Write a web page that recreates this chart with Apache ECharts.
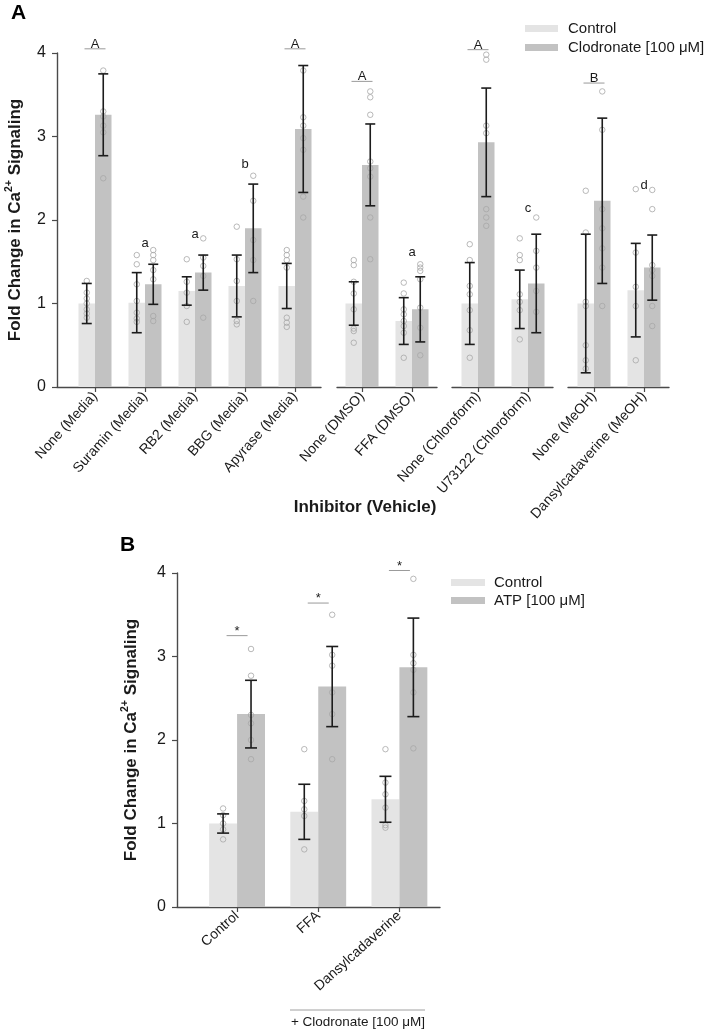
<!DOCTYPE html>
<html><head><meta charset="utf-8">
<script src="https://cdn.jsdelivr.net/npm/echarts@6/dist/echarts.min.js"></script>
<style>html,body{margin:0;padding:0;background:#fff}#c{width:710px;height:1031px}</style>
</head><body><div id="c"></div>
<script>
// ---------------- Panel A data ----------------
const catsA = ['None (Media)','Suramin (Media)','RB2 (Media)','BBG (Media)','Apyrase (Media)','None (DMSO)','FFA (DMSO)','None (Chloroform)','U73122 (Chloroform)','None (MeOH)','Dansylcadaverine (MeOH)'];
const groupA = [0,0,0,0,0,1,1,2,2,3,3];
const ctrlMeanA = [1.00,1.01,1.15,1.21,1.21,1.00,0.79,1.00,1.05,1.00,1.16];
const ctrlSdA   = [0.24,0.36,0.17,0.37,0.27,0.26,0.28,0.49,0.35,0.83,0.56];
const clodMeanA = [3.26,1.23,1.37,1.90,3.09,2.66,0.93,2.93,1.24,2.23,1.43];
const clodSdA   = [0.49,0.24,0.21,0.53,0.76,0.49,0.39,0.65,0.59,0.99,0.39];
const ctrlPtsA = [
  [1.27,1.13,1.06,1.00,0.93,0.88,0.83],
  [1.58,1.47,1.23,1.03,0.89,0.82,0.78],
  [1.53,1.26,1.13,0.97,0.78],
  [1.92,1.53,1.27,1.03,0.79,0.75],
  [1.64,1.58,1.52,1.43,0.83,0.77,0.72],
  [1.52,1.46,1.26,1.12,0.93,0.70,0.67,0.53],
  [1.25,1.12,0.93,0.87,0.79,0.73,0.65,0.35],
  [1.71,1.52,1.21,1.11,0.92,0.68,0.35],
  [1.78,1.58,1.52,1.11,1.02,0.92,0.57],
  [2.35,1.85,1.02,0.97,0.50,0.32,0.22],
  [2.37,1.61,1.20,0.97,0.32]
];
const clodPtsA = [
  [3.79,3.30,3.24,3.13,3.05,2.50],
  [1.64,1.58,1.52,1.40,1.29,0.85,0.79],
  [1.78,1.55,1.45,1.33,0.83],
  [2.53,2.23,1.76,1.52,1.03],
  [3.79,3.23,3.13,2.98,2.84,2.28,2.03],
  [3.54,3.47,3.26,2.70,2.62,2.52,2.03,1.53],
  [1.47,1.43,1.39,1.29,0.95,0.71,0.38],
  [3.98,3.92,3.13,3.04,2.13,2.03,1.93],
  [2.03,1.63,1.43,1.15,0.90],
  [3.54,3.08,2.13,1.90,1.66,1.43,0.97],
  [2.36,2.13,1.46,1.40,1.33,0.97,0.73]
];
const sigTextA = ['A','a','a','b','A','A','a','A','c','B','d'];
const sigYA    = [4.05,1.72,1.83,2.66,4.05,3.66,1.61,4.04,2.14,3.64,2.42];
const sigLineA = [1,0,0,0,1,1,0,1,0,1,0];
const seriesNamesA = ['Control','Clodronate [100 μM]'];

// ---------------- Panel B data ----------------
const catsB = ['Control','FFA','Dansylcadaverine'];
const ctrlMeanB = [1.00,1.14,1.29];
const ctrlSdB   = [0.115,0.33,0.275];
const atpMeanB  = [2.31,2.64,2.87];
const atpSdB    = [0.405,0.48,0.59];
const ctrlPtsB = [[1.18,1.10,1.00,0.93,0.81],[1.89,1.27,1.17,1.09,0.69],[1.89,1.49,1.35,1.19,0.98,0.95]];
const atpPtsB  = [[3.09,2.77,2.30,2.20,2.00,1.77],[3.50,3.02,2.89,2.57,2.31,1.77],[3.93,3.02,2.92,2.84,2.57,1.90]];
const sigTextB = ['*','*','*'];
const sigYB    = [3.25,3.64,4.03];
const sigLineB = [1,1,1];
const seriesNamesB = ['Control','ATP [100 μM]'];
const yTicks = [0,1,2,3,4];

// ---------------- styling ----------------
const FONT = '"Liberation Sans", Arial, Helvetica, sans-serif';
const LIGHT = '#e4e4e4', DARK = '#c2c2c2', PT = '#a8a8a8', ERR = '#1c1c1c', AX = '#4a4a4a', TXT = '#1a1a1a';

const option = {
  backgroundColor:'#fff', animation:false,
  textStyle:{fontFamily:FONT},
  grid:[], xAxis:[], yAxis:[], series:[],
  title:[
    {text:'A', left:11, top:3, padding:0, textStyle:{fontSize:21, fontWeight:'bold', color:'#000', fontFamily:FONT}},
    {text:'B', left:120, top:535, padding:0, textStyle:{fontSize:21, fontWeight:'bold', color:'#000', fontFamily:FONT}}
  ],
  legend:[
    {left:525, top:21, orient:'vertical', padding:0, itemGap:4, itemWidth:33, itemHeight:7, icon:'rect',
     data:seriesNamesA, textStyle:{fontSize:15, color:TXT, fontFamily:FONT, padding:[0,0,0,5]}},
    {left:451, top:575, orient:'vertical', padding:0, itemGap:3, itemWidth:34, itemHeight:7, icon:'rect',
     data:seriesNamesB, textStyle:{fontSize:15, color:TXT, fontFamily:FONT, padding:[0,0,0,4]}}
  ],
  graphic:[
    {type:'text', x:365, y:507, style:{text:'Inhibitor (Vehicle)', align:'center', verticalAlign:'middle', fontSize:17, fontWeight:'bold', fontFamily:FONT, fill:TXT}},
    {type:'line', shape:{x1:290, y1:1010, x2:425, y2:1010}, style:{stroke:'#a0a0a0', lineWidth:1}},
    {type:'text', x:358, y:1022, style:{text:'+ Clodronate [100 μM]', align:'center', verticalAlign:'middle', fontSize:13.5, fontFamily:FONT, fill:TXT}}
  ]
};

function barItem(side, bw){
  return function(params, api){
    const x = api.value(0), y = api.value(1);
    const b = api.coord([x,0]), t = api.coord([x,y]);
    const w = api.size([bw,0])[0];
    return {type:'rect', shape:{x: side<0 ? b[0]-w : b[0], y:t[1], width:w, height:b[1]-t[1]}, style:api.style()};
  };
}
function errItem(side, bw, cap){
  return function(params, api){
    const x = api.value(0), m = api.value(1), sd = api.value(2);
    const w = api.size([bw,0])[0];
    const xc = api.coord([x,m])[0] + side*w/2;
    const hi = api.coord([x,m+sd])[1], lo = api.coord([x,m-sd])[1];
    const st = {stroke:ERR, lineWidth:1.6};
    return {type:'group', children:[
      {type:'line', shape:{x1:xc,y1:hi,x2:xc,y2:lo}, style:st},
      {type:'line', shape:{x1:xc-cap,y1:hi,x2:xc+cap,y2:hi}, style:st},
      {type:'line', shape:{x1:xc-cap,y1:lo,x2:xc+cap,y2:lo}, style:st}
    ]};
  };
}
function sigItem(texts, lines){
  return function(params, api){
    const i = params.dataIndex;
    const p = api.coord([api.value(0), api.value(1)]);
    const ts = {text:texts[i], x:p[0], fontSize:13, fontFamily:FONT, fill:TXT, align:'center'};
    if (lines[i]) {
      return {type:'group', children:[
        {type:'line', shape:{x1:p[0]-10.5,y1:p[1],x2:p[0]+10.5,y2:p[1]}, style:{stroke:'#9a9a9a', lineWidth:1}},
        {type:'text', style:Object.assign({}, ts, {y:p[1]+2, verticalAlign:'bottom'})}
      ]};
    }
    return {type:'text', style:Object.assign({}, ts, {y:p[1], verticalAlign:'middle'})};
  };
}

function addSegment(seg, showY, yName, cats, idx, cM, cS, tM, tS, cP, tP, sT, sY, sL, names, bw, cap, rot, labelSize){
  const g = option.grid.length;
  option.grid.push({left:seg.left, top:seg.top, width:seg.width, height:seg.height, containLabel:false});
  const local = idx.map((_,k)=>k);
  option.xAxis.push({type:'value', gridIndex:g, min:seg.min, max:seg.max,
    axisLine:{show:true, onZero:false, lineStyle:{color:AX, width:1.4}},
    axisTick:{show:true, customValues:local, length:5, lineStyle:{color:AX, width:1.2}},
    axisLabel:{customValues:local, formatter:v=>cats[idx[Math.round(v)]], rotate:rot, fontSize:labelSize, color:TXT, margin:7, fontFamily:FONT},
    splitLine:{show:false}});
  const y = {type:'value', gridIndex:g, min:0, max:4, interval:1, show:showY,
    axisLine:{show:true, onZero:false, lineStyle:{color:AX, width:1.4}},
    axisTick:{show:true, length:5, lineStyle:{color:AX, width:1.2}},
    axisLabel:{fontSize:16, color:TXT, margin:11, fontFamily:FONT, formatter:v=>String(yTicks[Math.round(v)])},
    splitLine:{show:false}};
  if (yName) Object.assign(y, yName);
  option.yAxis.push(y);
  const ax = {xAxisIndex:g, yAxisIndex:g};
  option.series.push(Object.assign({type:'custom', name:names[0], renderItem:barItem(-1,bw), itemStyle:{color:LIGHT}, z:1, silent:true,
    data: idx.map((i,k)=>[k, cM[i]])}, ax));
  option.series.push(Object.assign({type:'custom', name:names[1], renderItem:barItem(1,bw), itemStyle:{color:DARK}, z:1, silent:true,
    data: idx.map((i,k)=>[k, tM[i]])}, ax));
  const ptStyle = {color:'rgba(255,255,255,0)', borderColor:PT, borderWidth:1};
  const cData = [], tData = [];
  idx.forEach((i,k)=>{ cP[i].forEach(v=>cData.push([k-bw/2, v])); tP[i].forEach(v=>tData.push([k+bw/2, v])); });
  option.series.push(Object.assign({type:'scatter', name:'ctrl-pts', symbol:'circle', symbolSize:5.5, itemStyle:ptStyle, z:3, silent:true, data:cData}, ax));
  option.series.push(Object.assign({type:'scatter', name:'trt-pts', symbol:'circle', symbolSize:5.5, itemStyle:ptStyle, z:3, silent:true, data:tData}, ax));
  option.series.push(Object.assign({type:'custom', name:'err-c', renderItem:errItem(-1,bw,cap), z:4, silent:true,
    data: idx.map((i,k)=>[k, cM[i], cS[i]])}, ax));
  option.series.push(Object.assign({type:'custom', name:'err-t', renderItem:errItem(1,bw,cap), z:4, silent:true,
    data: idx.map((i,k)=>[k, tM[i], tS[i]])}, ax));
  const texts = idx.map(i=>sT[i]), lines = idx.map(i=>sL[i]);
  option.series.push(Object.assign({type:'custom', name:'sig', renderItem:sigItem(texts, lines), z:5, silent:true,
    data: idx.map((i,k)=>[k, sY[i]])}, ax));
}

const yNameRich = {
  nameLocation:'middle', nameGap:31,
  name:'Fold Change in Ca{sup|2+} Signaling',
  nameTextStyle:{fontSize:17, fontWeight:'bold', color:TXT, fontFamily:FONT, lineHeight:22,
    rich:{sup:{fontSize:10.5, fontWeight:'bold', color:TXT, fontFamily:FONT, verticalAlign:'top', lineHeight:22, padding:[0,0,9,0]}}}
};

// Panel A: four axis segments
const segsA = [
  {left:57, width:264, min:-0.76, max:4.52},
  {left:337, width:100, min:-0.5, max:1.5},
  {left:452, width:101, min:-0.52, max:1.5},
  {left:568, width:101, min:-0.52, max:1.5}
];
segsA.forEach((s,gi)=>{
  const idx = groupA.map((g,i)=>g===gi?i:-1).filter(i=>i>=0);
  addSegment(Object.assign({top:53, height:334}, s), gi===0, gi===0?yNameRich:null, catsA, idx,
    ctrlMeanA, ctrlSdA, clodMeanA, clodSdA, ctrlPtsA, clodPtsA, sigTextA, sigYA, sigLineA, seriesNamesA, 0.33, 5, 48, 14);
});
// Panel B
addSegment({left:177, top:573, width:263, height:334, min:-0.74, max:2.5}, true, Object.assign({}, yNameRich, {nameGap:35}),
  catsB, [0,1,2], ctrlMeanB, ctrlSdB, atpMeanB, atpSdB, ctrlPtsB, atpPtsB, sigTextB, sigYB, sigLineB, seriesNamesB, 0.344, 6, 42, 14);

const chart = echarts.init(document.getElementById('c'), null, {renderer:'canvas'});
chart.setOption(option);
</script></body></html>
